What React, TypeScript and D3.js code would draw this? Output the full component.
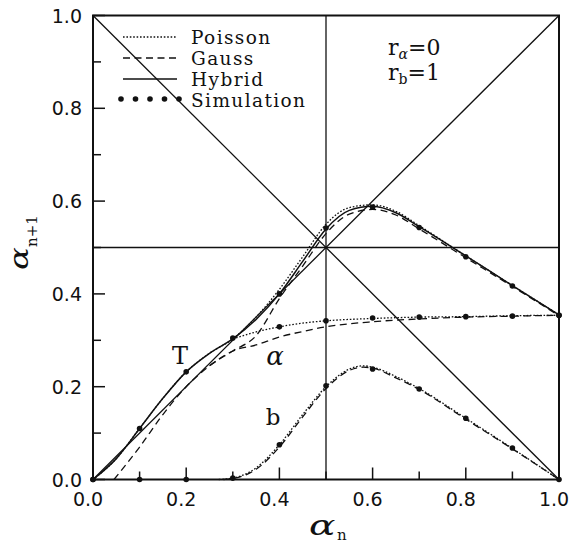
import * as d3 from "d3";

// curve T (alpha + b)
const tX = [0, 0.05, 0.1, 0.15, 0.2, 0.25, 0.3, 0.35, 0.4, 0.45, 0.5, 0.55, 0.6, 0.65, 0.7, 0.8, 0.9, 1.0];
const tHybrid = [0, 0.045, 0.11, 0.175, 0.232, 0.272, 0.303, 0.345, 0.4, 0.47, 0.54, 0.58, 0.589, 0.575, 0.545, 0.482, 0.418, 0.355];
const tPoisson = [0, 0.045, 0.11, 0.175, 0.232, 0.272, 0.303, 0.35, 0.41, 0.48, 0.55, 0.586, 0.592, 0.578, 0.547, 0.482, 0.418, 0.355];
const tGaussX = [0.045, 0.1, 0.15, 0.2, 0.25, 0.3, 0.35, 0.4, 0.45, 0.5, 0.55, 0.6, 0.65, 0.7, 0.8, 0.9, 1.0];
const tGauss = [0, 0.07, 0.14, 0.2, 0.245, 0.277, 0.31, 0.39, 0.46, 0.53, 0.572, 0.582, 0.57, 0.54, 0.478, 0.416, 0.353];

// curve alpha
const aX = [0.3, 0.35, 0.4, 0.45, 0.5, 0.6, 0.7, 0.8, 0.9, 1.0];
const aPoisson = [0.303, 0.318, 0.329, 0.337, 0.342, 0.347, 0.35, 0.351, 0.353, 0.354];
const aGauss = [0.277, 0.29, 0.307, 0.319, 0.329, 0.34, 0.346, 0.35, 0.352, 0.354];

// curve b
const bPoissonX = [0.27, 0.3, 0.35, 0.4, 0.45, 0.5, 0.55, 0.58, 0.6, 0.65, 0.7, 0.8, 0.9, 1.0];
const bPoisson = [0, 0.003, 0.025, 0.075, 0.14, 0.2, 0.238, 0.245, 0.242, 0.222, 0.196, 0.132, 0.067, 0];
const bGaussX = [0.28, 0.3, 0.35, 0.4, 0.45, 0.5, 0.55, 0.58, 0.6, 0.65, 0.7, 0.8, 0.9, 1.0];
const bGauss = [0, 0.002, 0.022, 0.07, 0.135, 0.196, 0.235, 0.242, 0.24, 0.219, 0.194, 0.13, 0.066, 0];

// simulation points
const simX = [0, 0.1, 0.2, 0.3, 0.4, 0.5, 0.6, 0.7, 0.8, 0.9, 1.0];
const simT = [0, 0.11, 0.232, 0.305, 0.4, 0.542, 0.587, 0.543, 0.48, 0.417, 0.354];
const simAX = [0.4, 0.5, 0.6, 0.7, 0.8, 0.9, 1.0];
const simA = [0.329, 0.342, 0.348, 0.35, 0.351, 0.352, 0.354];
const simB = [0, 0, 0, 0.003, 0.075, 0.202, 0.238, 0.195, 0.132, 0.068, 0];

const tickValues = [0, 0.2, 0.4, 0.6, 0.8, 1.0];
const minorValues = [0.1, 0.3, 0.5, 0.7, 0.9];
const legendNames = ["Poisson", "Gauss", "Hybrid", "Simulation"];

const W = 573, H = 543;
const x = d3.scaleLinear().domain([0, 1]).range([93, 559]);
const y = d3.scaleLinear().domain([0, 1]).range([479.5, 15.5]);

const zip = (xs: number[], ys: number[]) => xs.map((v, i) => [v, ys[i]] as [number, number]);
const line = d3
  .line<[number, number]>()
  .x((d) => x(d[0]))
  .y((d) => y(d[1]))
  .curve(d3.curveMonotoneX);

const DOT = "1.6,1.8";
const DASH = "7,4.5";
const ink = "#111";

export default function App() {
  const serif = "'DejaVu Serif', serif";
  const sans = "'DejaVu Sans', sans-serif";

  const dots = [...zip(simX, simT), ...zip(simAX, simA), ...zip(simX, simB)];

  return (
    <svg width={W} height={H} style={{ position: "absolute", left: 0, top: 0, background: "#fff" }}>
      {/* guide lines */}
      <g stroke={ink} strokeWidth={1.3} fill="none">
        <line x1={x(0)} y1={y(0)} x2={x(1)} y2={y(1)} />
        <line x1={x(0)} y1={y(1)} x2={x(1)} y2={y(0)} />
        <line x1={x(0.5)} y1={y(0)} x2={x(0.5)} y2={y(1)} />
        <line x1={x(0)} y1={y(0.5)} x2={x(1)} y2={y(0.5)} />
      </g>

      {/* frame and ticks */}
      <rect x={x(0)} y={y(1)} width={x(1) - x(0)} height={y(0) - y(1)} fill="none" stroke={ink} strokeWidth={2} />
      <g stroke={ink} strokeWidth={1.5}>
        {tickValues.map((v) => (
          <g key={"M" + v}>
            <line x1={x(v)} x2={x(v)} y1={y(0)} y2={y(0) - 12} />
            <line y1={y(v)} y2={y(v)} x1={x(0)} x2={x(0) + 12} />
          </g>
        ))}
        {minorValues.map((v) => (
          <g key={"m" + v}>
            <line x1={x(v)} x2={x(v)} y1={y(0)} y2={y(0) - 8} />
            <line y1={y(v)} y2={y(v)} x1={x(0)} x2={x(0) + 8} />
          </g>
        ))}
      </g>
      <g fontFamily={sans} fontSize={19} fill={ink}>
        {tickValues.map((v) => (
          <text key={"x" + v} x={x(v) - 5} y={506} textAnchor="middle">
            {v.toFixed(1)}
          </text>
        ))}
        {tickValues.map((v) => (
          <text key={"y" + v} x={82} y={y(v) + 7} textAnchor="end">
            {v.toFixed(1)}
          </text>
        ))}
      </g>

      {/* model curves */}
      <g fill="none" stroke={ink} strokeWidth={1.3}>
        <path d={line(zip(tX, tHybrid)) ?? ""} strokeWidth={1.5} />
        <path d={line(zip(tX, tPoisson)) ?? ""} strokeDasharray={DOT} />
        <path d={line(zip(tGaussX, tGauss)) ?? ""} strokeDasharray={DASH} />
        <path d={line(zip(aX, aPoisson)) ?? ""} strokeDasharray={DOT} />
        <path d={line([[0.25, 0.245], ...zip(aX, aGauss)]) ?? ""} strokeDasharray={DASH} />
        <path d={line(zip(bPoissonX, bPoisson)) ?? ""} strokeDasharray={DOT} />
        <path d={line(zip(bGaussX, bGauss)) ?? ""} strokeDasharray={DASH} />
      </g>
      <g fill={ink}>
        {dots.map((d, i) => (
          <circle key={i} cx={x(d[0])} cy={y(d[1])} r={2.8} />
        ))}
      </g>

      {/* legend */}
      <g stroke={ink} strokeWidth={1.3}>
        <line x1={123} x2={177} y1={37} y2={37} strokeDasharray={DOT} />
        <line x1={123} x2={177} y1={58} y2={58} strokeDasharray={DASH} />
        <line x1={123} x2={177} y1={79} y2={79} strokeWidth={1.5} />
      </g>
      <g fill={ink}>
        {[0, 1, 2, 3, 4].map((i) => (
          <circle key={i} cx={121 + i * 14.5} cy={99} r={2.8} />
        ))}
      </g>
      <g fontFamily={serif} fontSize={18.5} letterSpacing={1.4} fill={ink}>
        {legendNames.map((n, i) => (
          <text key={n} x={191} y={44 + i * 21}>
            {n}
          </text>
        ))}
      </g>

      {/* parameters */}
      <g fontFamily={serif} fontSize={22} fill={ink}>
        <text x={388} y={55}>
          r<tspan fontSize={14} fontStyle="italic" dy={4}>α</tspan>
          <tspan dy={-4}>=0</tspan>
        </text>
        <text x={388} y={80}>
          r<tspan fontSize={14} dy={4}>b</tspan>
          <tspan dy={-4}>=1</tspan>
        </text>
      </g>

      {/* curve labels */}
      <g fontFamily={serif} fill={ink}>
        <text x={180} y={364} fontSize={24} textAnchor="middle">T</text>
        <text x={275} y={365} fontSize={26} fontStyle="italic" textAnchor="middle">α</text>
        <text x={273} y={425} fontSize={23} textAnchor="middle">b</text>
      </g>

      {/* axis titles */}
      <g fontFamily={serif} fill={ink}>
        <text transform="translate(309,535) scale(1.4,1)" fontSize={28} fontStyle="italic">α</text>
        <text x={337} y={540} fontSize={15}>n</text>
        <g transform="translate(28,270) rotate(-90)">
          <text transform="scale(1.3,1)" fontSize={26} fontStyle="italic">α</text>
          <text x={23} y={9} fontSize={15}>n+1</text>
        </g>
      </g>
    </svg>
  );
}
